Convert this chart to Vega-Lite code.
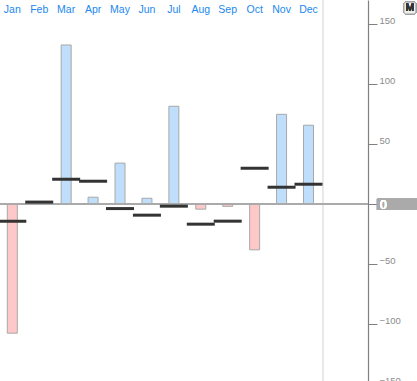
{
  "$schema": "https://vega.github.io/schema/vega-lite/v6.json",
  "width": 417,
  "height": 385,
  "padding": 0,
  "autosize": {"type": "none"},
  "background": "white",
  "config": {"view": {"stroke": null}},
  "data": {"values": [
    {"month": 1, "name": "Jan", "bar": -107.8, "line": -14.4},
    {"month": 2, "name": "Feb", "bar": null, "line": 1.5},
    {"month": 3, "name": "Mar", "bar": 132.5, "line": 20.6},
    {"month": 4, "name": "Apr", "bar": 5.6, "line": 18.9},
    {"month": 5, "name": "May", "bar": 34, "line": -3.9},
    {"month": 6, "name": "Jun", "bar": 4.7, "line": -9.4},
    {"month": 7, "name": "Jul", "bar": 81.4, "line": -1.9},
    {"month": 8, "name": "Aug", "bar": -4.4, "line": -16.9},
    {"month": 9, "name": "Sep", "bar": -2, "line": -14.4},
    {"month": 10, "name": "Oct", "bar": -38.3, "line": 29.7},
    {"month": 11, "name": "Nov", "bar": 74.7, "line": 13.9},
    {"month": 12, "name": "Dec", "bar": 65.6, "line": 16.4}
  ]},
  "layer": [
    {
      "mark": {"type": "bar", "size": 10, "stroke": "#a8a8a8", "strokeWidth": 1},
      "encoding": {
        "x": {
          "field": "month", "type": "quantitative",
          "scale": {"domain": [0.543, 16.03], "nice": false, "zero": false, "padding": 0},
          "axis": null
        },
        "y": {
          "field": "bar", "type": "quantitative",
          "scale": {"domain": [-151, 170], "nice": false, "zero": false, "padding": 0},
          "axis": {
            "orient": "right", "offset": -49,
            "values": [-150,-125,-100,-75,-50,-25,0,25,50,75,100,125,150],
            "labelExpr": "datum.value % 50 === 0 ? datum.label : ''",
            "tickSize": {"condition": {"test": "datum.value % 50 === 0", "value": 9}, "value": 3},
            "tickColor": "#808080", "domainColor": "#808080", "domainWidth": 1.2, "tickWidth": 1,
            "grid": false, "title": null, "labelPadding": 2, "labelBaseline": "alphabetic",
            "labelFlush": false, "labelOverlap": false,
            "labelColor": "#8c8c8c", "labelFont": "Liberation Sans", "labelFontSize": 9.5
          }
        },
        "color": {"condition": {"test": "datum.bar < 0", "value": "#ffc8c8"}, "value": "#bfdefc"}
      }
    },
    {
      "mark": {"type": "text", "color": "#2288ee", "align": "center", "baseline": "alphabetic", "font": "Liberation Sans", "fontSize": 10.5},
      "encoding": {
        "x": {"field": "month", "type": "quantitative"},
        "y": {"datum": 159.2, "type": "quantitative"},
        "text": {"field": "name"}
      }
    },
    {
      "mark": {"type": "rule", "color": "#e8e8e8", "strokeWidth": 1},
      "encoding": {"x": {"datum": 12.537, "type": "quantitative"}}
    },
    {
      "mark": {"type": "rule", "color": "#aaaaaa", "strokeWidth": 2},
      "encoding": {
        "x": {"datum": 0.543, "type": "quantitative"},
        "x2": {"datum": 14.208},
        "y": {"datum": 0, "type": "quantitative"}
      }
    },
    {
      "mark": {"type": "tick", "orient": "horizontal", "size": 28, "thickness": 3, "color": "#333333", "opacity": 1},
      "encoding": {
        "x": {"field": "month", "type": "quantitative"},
        "y": {"field": "line", "type": "quantitative"}
      }
    },
    {
      "mark": {"type": "rect", "color": "#aaaaaa"},
      "encoding": {
        "x": {"datum": 14.542, "type": "quantitative"},
        "x2": {"datum": 16.03},
        "y": {"datum": 4.2, "type": "quantitative"},
        "y2": {"datum": -5}
      }
    },
    {
      "mark": {"type": "text", "text": "0", "color": "white", "align": "left", "baseline": "middle", "font": "Liberation Sans", "fontSize": 12},
      "encoding": {
        "x": {"datum": 14.654, "type": "quantitative"},
        "y": {"datum": -0.6, "type": "quantitative"}
      }
    },
    {
      "mark": {"type": "rect", "fill": "#eeeeee", "stroke": "#a0a0a0", "strokeWidth": 1, "cornerRadius": 2},
      "encoding": {
        "x": {"datum": 15.545, "type": "quantitative"},
        "x2": {"datum": 15.99},
        "y": {"datum": 168.3, "type": "quantitative"},
        "y2": {"datum": 158.3}
      }
    },
    {
      "mark": {"type": "text", "text": "M", "color": "#333333", "align": "center", "baseline": "middle", "font": "Liberation Sans", "fontSize": 10},
      "encoding": {
        "x": {"datum": 15.77, "type": "quantitative"},
        "y": {"datum": 163.3, "type": "quantitative"}
      }
    }
  ]
}
